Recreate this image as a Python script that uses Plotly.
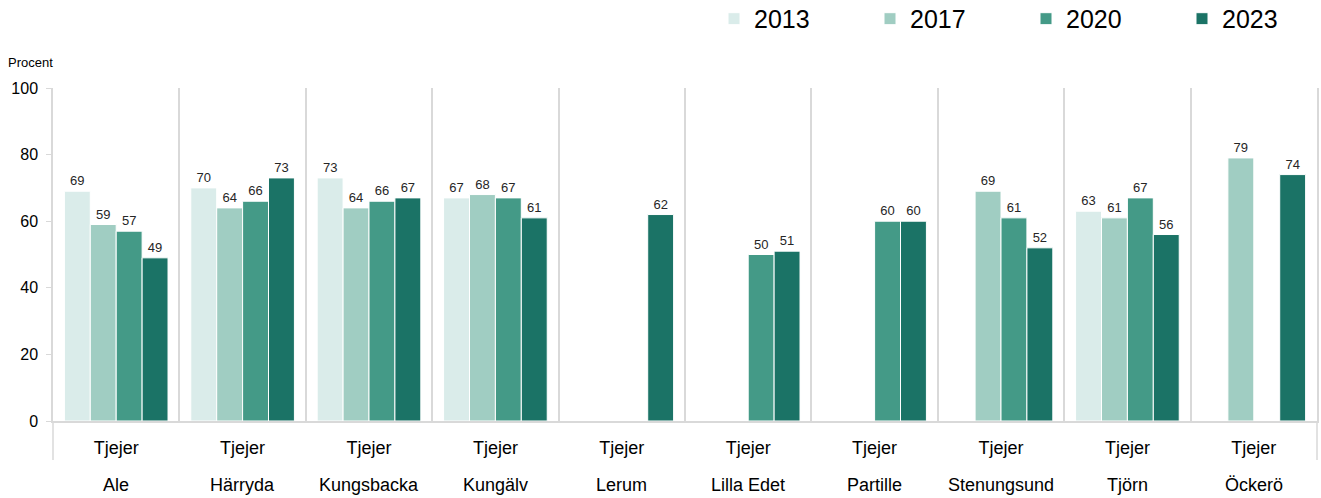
import plotly.graph_objects as go

municipalities = ["Ale", "Härryda", "Kungsbacka", "Kungälv", "Lerum", "Lilla Edet",
                  "Partille", "Stenungsund", "Tjörn", "Öckerö"]
subgroup = ["Tjejer"] * len(municipalities)
years = ["2013", "2017", "2020", "2023"]
v2013 = [69, 70, 73, 67, None, None, None, None, 63, None]
v2017 = [59, 64, 64, 68, None, None, None, 69, 61, 79]
v2020 = [57, 66, 66, 67, None, 50, 60, 61, 67, None]
v2023 = [49, 73, 67, 61, 62, 51, 60, 52, 56, 74]
series = [v2013, v2017, v2020, v2023]
colors = ["#daecea", "#a0cdc2", "#449a87", "#1b7366"]
FONT = "Liberation Sans, Arial"

fig = go.Figure()
for name, vals, col in zip(years, series, colors):
    fig.add_trace(go.Bar(
        x=municipalities, y=vals, name=name,
        marker=dict(color=col, line=dict(color="white", width=1)),
        text=[("" if v is None else str(v)) for v in vals],
        textposition="outside", cliponaxis=False,
        textfont=dict(size=13, color="#262626", family=FONT),
    ))

annotations = [dict(text="Procent", xref="paper", yref="paper", x=-0.037, y=1.078,
                    xanchor="left", yanchor="middle", showarrow=False,
                    font=dict(size=13, color="#000"))]
for m in municipalities:
    annotations.append(dict(text=m, x=m, xref="x", yref="paper", y=-0.192,
                            yanchor="middle", showarrow=False,
                            font=dict(size=18, color="#000")))

fig.update_layout(
    width=1321, height=498,
    margin=dict(l=53, r=4, t=88, b=77, autoexpand=False),
    paper_bgcolor="white", plot_bgcolor="white",
    barmode="group", bargap=0.18, bargroupgap=0,
    font=dict(family=FONT, color="#000"),
    legend=dict(orientation="h", xref="container", x=0.5405, xanchor="left",
                yref="container", y=0.962, yanchor="middle",
                entrywidth=111, entrywidthmode="pixels",
                font=dict(size=25, color="#000"), traceorder="normal"),
    showlegend=True,
    annotations=annotations,
    shapes=[
        dict(type="line", xref="paper", yref="paper", x0=0, x1=0, y0=0, y1=-0.117,
             line=dict(color="#d9d9d9", width=1.5)),
        dict(type="line", xref="paper", yref="paper", x0=1, x1=1, y0=0, y1=-0.117,
             line=dict(color="#d9d9d9", width=1.5)),
    ],
)
fig.update_xaxes(
    type="category", tickson="boundaries", automargin=False,
    tickmode="array", tickvals=municipalities, ticktext=subgroup,
    showgrid=True, gridcolor="#d9d9d9", gridwidth=1.5,
    showline=True, linecolor="#d9d9d9", linewidth=1.5,
    ticks="", ticklabelstandoff=10, tickfont=dict(size=18, color="#000"),
)
fig.update_yaxes(
    range=[0, 100], dtick=20, showgrid=False, zeroline=False, automargin=False,
    showline=True, linecolor="#d9d9d9", linewidth=1.5, mirror=True,
    ticks="outside", ticklen=5, tickcolor="#d9d9d9", ticklabelstandoff=5,
    tickfont=dict(size=16, color="#000"),
)
fig.write_html("out.html", config={"displayModeBar": False},
               post_script="document.body.style.margin='0';")
